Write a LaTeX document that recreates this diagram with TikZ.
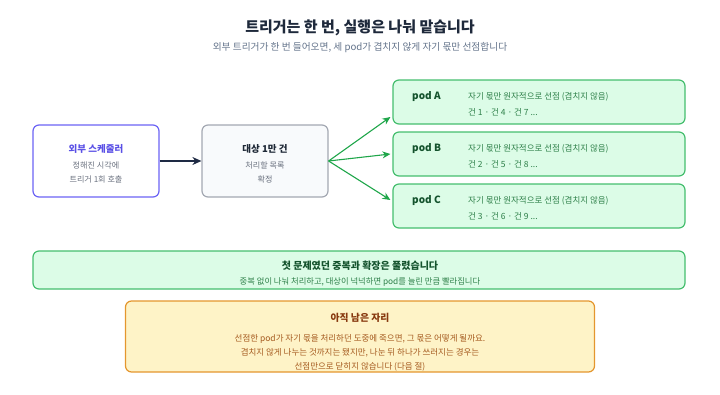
\documentclass[tikz,border=0pt]{standalone}
\usepackage{fontspec}
\setmainfont{Noto Sans CJK KR}
\usetikzlibrary{arrows.meta,calc}
\definecolor{titlec}{HTML}{1E293B}
\definecolor{subc}{HTML}{64748B}
\definecolor{indigoB}{HTML}{6B63F5}
\definecolor{indigoT}{HTML}{5A50E6}
\definecolor{grayB}{HTML}{A3A8B2}
\definecolor{grayF}{HTML}{F8FAFC}
\definecolor{bodyg}{HTML}{6B7280}
\definecolor{darkT}{HTML}{1F2937}
\definecolor{navy}{HTML}{1E2A44}
\definecolor{greenA}{HTML}{1FA64A}
\definecolor{greenB}{HTML}{45BE6E}
\definecolor{greenF}{HTML}{DCFCE7}
\definecolor{greenT}{HTML}{14532D}
\definecolor{greenS}{HTML}{2E8049}
\definecolor{orangeB}{HTML}{E4962E}
\definecolor{orangeF}{HTML}{FEF3C7}
\definecolor{orangeT}{HTML}{87380E}
\definecolor{orangeS}{HTML}{A55A1F}
\tikzset{
  boxbase/.style={draw, rounded corners=6pt, line width=1.2pt, inner sep=0pt},
  txt/.style={inner sep=0pt, anchor=base},
  btitle/.style={txt, font=\fontsize{9.5}{10}\selectfont\bfseries},
  bbody/.style={txt, font=\fontsize{8.1}{9}\selectfont, text=bodyg},
  podbox/.style={boxbase, draw=greenB, fill=greenF, minimum width=292pt, minimum height=44pt},
  podname/.style={txt, anchor=base west, font=\fontsize{10}{11}\selectfont\bfseries, text=greenT},
  podtxt/.style={txt, anchor=base west, font=\fontsize{8.5}{9}\selectfont, text=greenS},
  garrow/.style={draw=greenA, line width=1.1pt, -{Stealth[length=8pt,width=7pt]}},
  rembody/.style={txt, font=\fontsize{8.5}{9}\selectfont, text=orangeS},
}
\begin{document}
\begin{tikzpicture}[x=1pt,y=-1pt]
\useasboundingbox (0,0) rectangle (720,394);
% title
\node[txt, font=\fontsize{15}{16}\selectfont\bfseries, text=titlec] (title) at (360,32.5) {트리거는 한 번, 실행은 나눠 맡습니다};
\node[txt, font=\fontsize{9.7}{10}\selectfont, text=subc] (subtitle) at (360,50) {외부 트리거가 한 번 들어오면, 세 pod가 겹치지 않게 자기 몫만 선점합니다};
% scheduler
\node[boxbase, draw=indigoB, fill=white, minimum width=126pt, minimum height=72pt] (sched) at (96,161) {};
\node[btitle, text=indigoT] (schedT) at (96,152.5) {외부 스케줄러};
\node[bbody] (schedL1) at (96,168.5) {정해진 시각에};
\node[bbody] (schedL2) at (96,182.5) {트리거 1회 호출};
% target
\node[boxbase, draw=grayB, fill=grayF, minimum width=126pt, minimum height=72pt] (target) at (265,161) {};
\node[btitle, text=darkT] (targetT) at (265,152.5) {대상 1만 건};
\node[bbody] (targetL1) at (265,168.5) {처리할 목록};
\node[bbody] (targetL2) at (265,182.5) {확정};
\draw[draw=navy, line width=1.2pt, -{Stealth[length=9pt,width=8pt]}] (sched.east) -- (target.west);
% pods
\node[podbox] (podA) at (539,102) {};
\node[podbox] (podB) at (539,154) {};
\node[podbox] (podC) at (539,206) {};
\node[podname] (podAn) at (412,99.5) {pod A};
\node[podtxt] (podAt) at (468,99) {자기 몫만 원자적으로 선점 (겹치지 않음)};
\node[podtxt] (podAs) at (468,115) {건 1 · 건 4 · 건 7 ...};
\node[podname] (podBn) at (412,151.5) {pod B};
\node[podtxt] (podBt) at (468,151) {자기 몫만 원자적으로 선점 (겹치지 않음)};
\node[podtxt] (podBs) at (468,167) {건 2 · 건 5 · 건 8 ...};
\node[podname] (podCn) at (412,203.5) {pod C};
\node[podtxt] (podCt) at (468,203) {자기 몫만 원자적으로 선점 (겹치지 않음)};
\node[podtxt] (podCs) at (468,219) {건 3 · 건 6 · 건 9 ...};
\coordinate (tipA) at ($(podA.west)+(-2,15)$);
\coordinate (tipB) at ($(podB.west)+(-2,0)$);
\coordinate (tipC) at ($(podC.west)+(-2,-6)$);
\draw[garrow] (target.east) -- (tipA);
\draw[garrow] (target.east) -- (tipB);
\draw[garrow] (target.east) -- (tipC);
% summary
\node[boxbase, draw=greenB, fill=greenF, minimum width=652pt, minimum height=38pt] (summary) at (359,270) {};
\node[txt, font=\fontsize{10}{11}\selectfont\bfseries, text=greenT] (sumT) at (360,269.5) {첫 문제였던 중복과 확장은 풀렸습니다};
\node[txt, font=\fontsize{8.3}{9}\selectfont, text=greenS] (sumS) at (360,284) {중복 없이 나눠 처리하고, 대상이 넉넉하면 pod를 늘린 만큼 빨라집니다};
% remaining
\node[boxbase, draw=orangeB, fill=orangeF, minimum width=469pt, minimum height=71pt] (remain) at (360,336.5) {};
\node[txt, font=\fontsize{9.8}{10}\selectfont\bfseries, text=orangeT] (remT) at (360,321.5) {아직 남은 자리};
\node[rembody] (remL1) at (360,341) {선점한 pod가 자기 몫을 처리하던 도중에 죽으면, 그 몫은 어떻게 될까요.};
\node[rembody] (remL2) at (360,355.5) {겹치지 않게 나누는 것까지는 됐지만, 나눈 뒤 하나가 쓰러지는 경우는};
\node[rembody] (remL3) at (360,369) {선점만으로 닫히지 않습니다 (다음 절)};
\end{tikzpicture}
\end{document}
